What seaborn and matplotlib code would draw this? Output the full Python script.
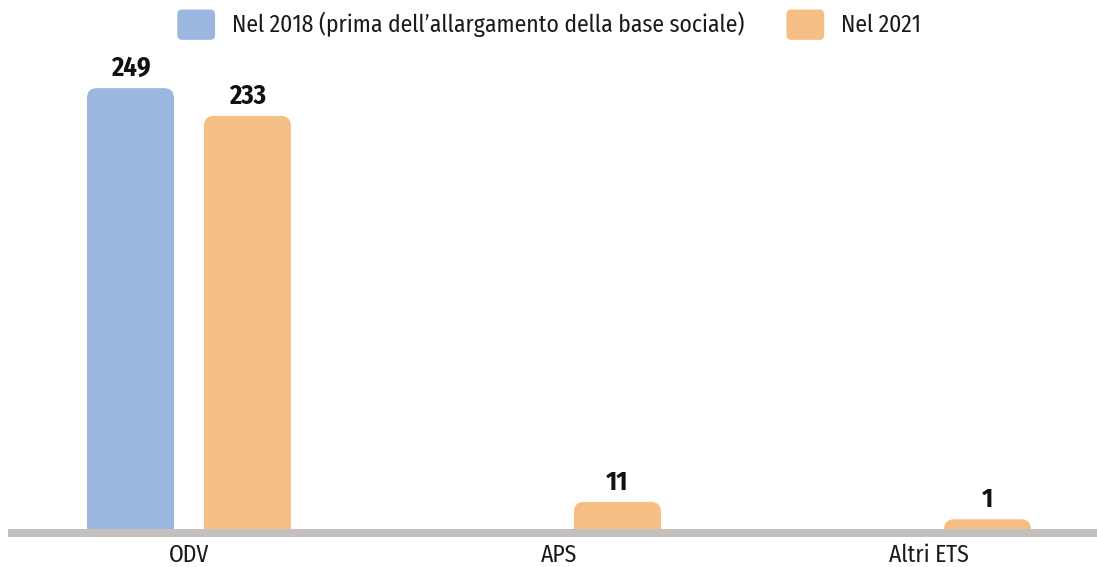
import matplotlib
matplotlib.use("Agg")
import matplotlib.pyplot as plt
from matplotlib.patches import FancyBboxPatch, Patch
from matplotlib.legend_handler import HandlerPatch
import numpy as np
import pandas as pd
import seaborn as sns

# ---- data ----
categories = ["ODV", "APS", "Altri ETS"]
series_names = ["Nel 2018 (prima dell\u2019allargamento della base sociale)", "Nel 2021"]
values_2018 = [249, np.nan, np.nan]
values_2021 = [233, 11, 1]
colors = ["#9bb7e0", "#f5be84"]

df = pd.DataFrame({
    "categoria": categories * 2,
    "serie": [series_names[0]] * 3 + [series_names[1]] * 3,
    "valore": values_2018 + values_2021,
})

sns.set_theme(style="white")
FONT = ["Fira Sans Condensed", "DejaVu Sans"]
plt.rcParams["font.family"] = FONT

W, H, DPI = 1097, 567, 100
fig = plt.figure(figsize=(W / DPI, H / DPI), dpi=DPI)
base_px = 533            # baseline (y=0) from top
top_px = 81              # axes top from top
ax = fig.add_axes([8 / W, (H - base_px) / H, (W - 8) / W, (base_px - top_px) / H])

sns.barplot(data=df, x="categoria", y="valore", hue="serie", order=categories,
            hue_order=series_names, palette=colors, width=0.632, gap=0.256,
            errorbar=None, legend=False, ax=ax, saturation=1)

ax.set_xlim(-0.489, 2.454)
ax.set_ylim(0, 260)
ax.set_xlabel("")
ax.set_ylabel("")
ax.set_yticks([])
for s in ax.spines.values():
    s.set_visible(False)
ax.tick_params(axis="x", length=0, pad=8, labelsize=17, labelcolor="#1a1a1a")

# pixel -> data units
ax_w_px = W - 8
ax_h_px = base_px - top_px
xupp = (2.454 + 0.489) / ax_w_px
yupp = 260 / ax_h_px
r_px = 10
cap_px = 12

bars = [p for p in ax.patches]
for p in bars:
    h = p.get_height()
    x = p.get_x()
    w = p.get_width()
    fc = p.get_facecolor()
    p.remove()
    if h is None or np.isnan(h):
        continue
    top = h + cap_px * yupp
    bottom = -3 * r_px * yupp
    rb = FancyBboxPatch((x, bottom), w, top - bottom,
                        boxstyle=f"round,pad=0,rounding_size={r_px * xupp}",
                        mutation_aspect=yupp / xupp, fc=fc, ec="none", zorder=2)
    ax.add_patch(rb)
    ax.annotate(f"{int(h)}", xy=(x + w / 2, h), xytext=(0, (cap_px + 12) * 0.72),
                textcoords="offset points", ha="center", va="baseline",
                fontsize=19, fontweight="bold", color="#111111")

ax.axhline(0, color="#c4c0bf", lw=8 * 0.72, zorder=3, clip_on=False,
           solid_capstyle="butt")


class RoundHandler(HandlerPatch):
    def create_artists(self, legend, orig_handle, xdescent, ydescent, width, height, fontsize, trans):
        p = FancyBboxPatch((-xdescent, -ydescent), width, height,
                           boxstyle=f"round,pad=0,rounding_size={0.16 * height}",
                           fc=orig_handle.get_facecolor(), ec="none", transform=trans)
        return [p]


handles = [Patch(facecolor=c) for c in colors]
fig.legend(handles, series_names, loc="upper center", bbox_to_anchor=(549 / W, 1.0 + 7 / H),
           ncol=2, frameon=False, fontsize=17, handlelength=1.6, handleheight=1.6,
           handletextpad=0.7, columnspacing=1.8, borderpad=0.2,
           handler_map={Patch: RoundHandler()}, labelcolor="#1a1a1a")

fig.savefig("out.png", dpi=DPI)
